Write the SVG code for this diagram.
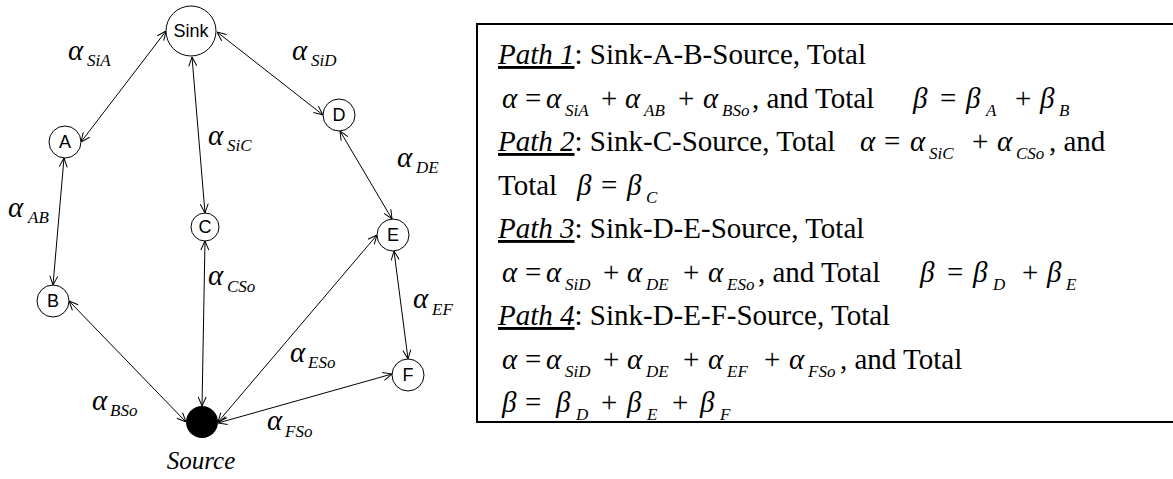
<svg xmlns="http://www.w3.org/2000/svg" width="1173" height="479" viewBox="0 0 1173 479">
<style>
.nd{fill:#fff;stroke:#000;stroke-width:1}
.nt{font-family:'Liberation Sans',Arial,sans-serif;font-size:18px;text-anchor:middle;fill:#000}
.cn{stroke:#000;stroke-width:1;fill:none;marker-start:url(#ah);marker-end:url(#ah)}
.g{font-family:'Liberation Serif','Times New Roman',serif;font-style:italic;font-size:29px;fill:#000}
.s{font-family:'Liberation Serif','Times New Roman',serif;font-style:italic;font-size:17px;fill:#000}
.t{font-family:'Liberation Serif','Times New Roman',serif;font-size:29px;fill:#000}
.p{font-style:italic;text-decoration:underline}
</style>
<defs>
<marker id="ah" viewBox="0 0 10 10" refX="10" refY="5" markerWidth="10" markerHeight="10" markerUnits="userSpaceOnUse" orient="auto-start-reverse">
<path d="M1,1 L10,5 L1,9" fill="none" stroke="#000" stroke-width="1"/>
</marker>
</defs>
<rect x="477" y="24" width="710" height="398" fill="none" stroke="#000" stroke-width="2"/>
<g id="connectors">
<line class="cn" x1="166" y1="31" x2="81" y2="142"/>
<line class="cn" x1="192" y1="57" x2="205" y2="213"/>
<line class="cn" x1="217" y1="32" x2="323" y2="115"/>
<line class="cn" x1="64" y1="158" x2="53" y2="285"/>
<line class="cn" x1="205" y1="241" x2="202" y2="406"/>
<line class="cn" x1="69" y1="301" x2="186" y2="422"/>
<line class="cn" x1="340" y1="131" x2="392" y2="219"/>
<line class="cn" x1="377" y1="235" x2="218" y2="422"/>
<line class="cn" x1="394" y1="251" x2="408" y2="359"/>
<line class="cn" x1="392" y1="374" x2="218" y2="423"/>
</g>
<g id="sink"><circle class="nd" cx="191" cy="31" r="25"/><text class="nt" x="191" y="37">Sink</text></g>
<g id="nodeA"><circle class="nd" cx="65" cy="142" r="16"/><text class="nt" x="65" y="148">A</text></g>
<g id="nodeB"><circle class="nd" cx="53" cy="301" r="16"/><text class="nt" x="53" y="307">B</text></g>
<g id="nodeC"><circle class="nd" cx="205" cy="227" r="14"/><text class="nt" x="205" y="233">C</text></g>
<g id="nodeD"><circle class="nd" cx="339" cy="115" r="16"/><text class="nt" x="339" y="121">D</text></g>
<g id="nodeE"><circle class="nd" cx="393" cy="235" r="16"/><text class="nt" x="393" y="241">E</text></g>
<g id="nodeF"><circle class="nd" cx="408" cy="375" r="16"/><text class="nt" x="408" y="381">F</text></g>
<g id="source"><circle cx="202" cy="422" r="16" fill="#000"/><text class="g" x="201" y="469" text-anchor="middle" style="font-size:25px">Source</text></g>
<g id="edge-labels">
<text class="g" x="68" y="60">α</text><text class="s" x="87" y="66">SiA</text>
<text class="g" x="292" y="60">α</text><text class="s" x="311" y="66">SiD</text>
<text class="g" x="208" y="145">α</text><text class="s" x="227" y="151">SiC</text>
<text class="g" x="8" y="217">α</text><text class="s" x="28" y="223">AB</text>
<text class="g" x="397" y="167">α</text><text class="s" x="416" y="173">DE</text>
<text class="g" x="208" y="285">α</text><text class="s" x="227" y="292">CSo</text>
<text class="g" x="413" y="308">α</text><text class="s" x="432" y="315">EF</text>
<text class="g" x="290" y="362">α</text><text class="s" x="308" y="368">ESo</text>
<text class="g" x="267" y="430">α</text><text class="s" x="285" y="437">FSo</text>
<text class="g" x="92" y="410">α</text><text class="s" x="110" y="416">BSo</text>
</g>
<g id="text-box">
<text class="t" x="498" y="64"><tspan class="p">Path 1</tspan>: Sink-A-B-Source, Total</text>
<text class="g" x="502" y="107.5">α</text><text class="t" x="525" y="107.5">=</text><text class="g" x="546" y="107.5">α</text><text class="s" x="565" y="115.5">SiA</text>
<text class="t" x="601" y="107.5">+</text><text class="g" x="625" y="107.5">α</text><text class="s" x="644" y="115.5">AB</text>
<text class="t" x="678" y="107.5">+</text><text class="g" x="703" y="107.5">α</text><text class="s" x="722" y="115.5">BSo</text>
<text class="t" x="752" y="107.5">, and Total</text>
<text class="g" x="913" y="107.5">β</text><text class="t" x="940" y="107.5">=</text><text class="g" x="966" y="107.5">β</text><text class="s" x="986" y="115.5">A</text>
<text class="t" x="1015" y="107.5">+</text><text class="g" x="1040" y="107.5">β</text><text class="s" x="1059" y="115.5">B</text>

<text class="t" x="498" y="151"><tspan class="p">Path 2</tspan>: Sink-C-Source, Total</text>
<text class="g" x="860" y="151">α</text><text class="t" x="884" y="151">=</text><text class="g" x="910" y="151">α</text><text class="s" x="929" y="159">SiC</text>
<text class="t" x="972" y="151">+</text><text class="g" x="997" y="151">α</text><text class="s" x="1016" y="159">CSo</text>
<text class="t" x="1049" y="151">, and</text>

<text class="t" x="498" y="194.5">Total</text>
<text class="g" x="577" y="194.5">β</text><text class="t" x="601" y="194.5">=</text><text class="g" x="627" y="194.5">β</text><text class="s" x="646" y="202.5">C</text>

<text class="t" x="498" y="238"><tspan class="p">Path 3</tspan>: Sink-D-E-Source, Total</text>
<text class="g" x="502" y="281.5">α</text><text class="t" x="525" y="281.5">=</text><text class="g" x="546" y="281.5">α</text><text class="s" x="565" y="289.5">SiD</text>
<text class="t" x="603" y="281.5">+</text><text class="g" x="627" y="281.5">α</text><text class="s" x="646" y="289.5">DE</text>
<text class="t" x="683" y="281.5">+</text><text class="g" x="708" y="281.5">α</text><text class="s" x="727" y="289.5">ESo</text>
<text class="t" x="758" y="281.5">, and Total</text>
<text class="g" x="920" y="281.5">β</text><text class="t" x="947" y="281.5">=</text><text class="g" x="973" y="281.5">β</text><text class="s" x="993" y="289.5">D</text>
<text class="t" x="1022" y="281.5">+</text><text class="g" x="1047" y="281.5">β</text><text class="s" x="1066" y="289.5">E</text>

<text class="t" x="498" y="325"><tspan class="p">Path 4</tspan>: Sink-D-E-F-Source, Total</text>
<text class="g" x="502" y="368.5">α</text><text class="t" x="525" y="368.5">=</text><text class="g" x="546" y="368.5">α</text><text class="s" x="565" y="376.5">SiD</text>
<text class="t" x="603" y="368.5">+</text><text class="g" x="627" y="368.5">α</text><text class="s" x="646" y="376.5">DE</text>
<text class="t" x="683" y="368.5">+</text><text class="g" x="708" y="368.5">α</text><text class="s" x="727" y="376.5">EF</text>
<text class="t" x="764" y="368.5">+</text><text class="g" x="789" y="368.5">α</text><text class="s" x="808" y="376.5">FSo</text>
<text class="t" x="840" y="368.5">, and Total</text>

<text class="g" x="502" y="412">β</text><text class="t" x="525" y="412">=</text><text class="g" x="556" y="412">β</text><text class="s" x="576" y="420">D</text>
<text class="t" x="601" y="412">+</text><text class="g" x="627" y="412">β</text><text class="s" x="647" y="420">E</text>
<text class="t" x="672" y="412">+</text><text class="g" x="700" y="412">β</text><text class="s" x="720" y="420">F</text>
</g>
</svg>
